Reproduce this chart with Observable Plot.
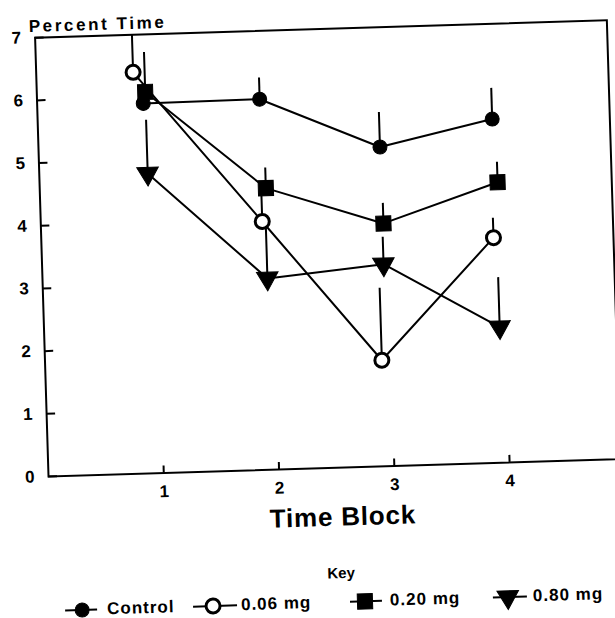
<!DOCTYPE html>
<html>
<head>
<meta charset="utf-8">
<script src="https://cdn.jsdelivr.net/npm/d3@7"></script>
<script src="https://cdn.jsdelivr.net/npm/@observablehq/plot@0.6"></script>
<style>
  html, body { margin: 0; padding: 0; background: #fff; }
  body { width: 615px; height: 618px; overflow: hidden; position: relative; }
  #page {
    position: absolute; left: 0; top: 0; width: 630px; height: 640px;
    transform-origin: 48px 476px; transform: rotate(-1.75deg);
    font-family: "Liberation Sans", Arial, sans-serif; font-weight: bold; color: #000;
  }
  #page svg { display: block; }
  .key { position: absolute; font-size: 15px; line-height: 16px; transform: translate(-50%, -50%); }
  .item-text { position: absolute; font-size: 17px; line-height: 16px; letter-spacing: 1px; }
  .item-sym { position: absolute; overflow: visible; }
</style>
</head>
<body>
<div id="page"></div>
<script>
// Mean percent time per time block for each treatment group,
// with the top of each upward error bar.
const blocks = [1, 2, 3, 4];
const groups = ["Control", "0.06 mg", "0.20 mg", "0.80 mg"];

// Horizontal positions at which each group's points are plotted
const controlX = [0.92, 1.93, 2.96, 3.94];
const dose06X  = [0.84, 1.92, 2.92, 3.92];
const dose20X  = [0.94, 1.96, 2.97, 3.97];
const dose80X  = [0.94, 1.95, 2.96, 3.95];

const controlMean = [5.90, 5.91, 5.09, 5.48];
const dose06Mean  = [6.40, 3.96, 1.69, 3.59];
const dose20Mean  = [6.08, 4.49, 3.87, 4.47];
const dose80Mean  = [4.78, 3.05, 3.22, 2.16];

const controlUpper = [6.20, 6.25, 5.64, 5.97];
const dose06Upper  = [7.00, 4.36, 2.84, 3.90];
const dose20Upper  = [6.71, 4.81, 4.19, 4.79];
const dose80Upper  = [5.63, 3.85, 3.65, 2.95];

const yTicks = [0, 1, 2, 3, 4, 5, 6, 7];
const xTicks = [1, 2, 3, 4];

const seriesX = [controlX, dose06X, dose20X, dose80X];
const seriesMean = [controlMean, dose06Mean, dose20Mean, dose80Mean];
const seriesUpper = [controlUpper, dose06Upper, dose20Upper, dose80Upper];

const rows = groups.flatMap((group, i) =>
  blocks.map((block, j) => ({
    group, block,
    x: seriesX[i][j],
    mean: seriesMean[i][j],
    upper: seriesUpper[i][j]
  }))
);
const of = g => rows.filter(d => d.group === g);

// Marker style for each group (shared by plot and key)
const markerStyle = {
  "Control": {symbol: "circle", r: 7, fill: "black", stroke: "black", strokeWidth: 1},
  "0.06 mg": {symbol: "circle", r: 7, fill: "white", stroke: "black", strokeWidth: 3},
  "0.20 mg": {symbol: "square", r: 8.5, fill: "black", stroke: "black", strokeWidth: 1},
  "0.80 mg": {symbol: "triangle", r: 8, rotate: 180, fill: "black", stroke: "black", strokeWidth: 1}
};

const intLabel = d => String(d);

const chart = Plot.plot({
  width: 630,
  height: 548,
  marginLeft: 48,
  marginRight: 10,
  marginTop: 37,
  marginBottom: 72,
  x: {domain: [0, 4.96]},
  y: {domain: [0, 7]},
  style: {
    fontFamily: '"Liberation Sans", Arial, sans-serif',
    color: "black",
    background: "transparent",
    overflow: "visible"
  },
  marks: [
    // inward tick marks
    Plot.axisY({ticks: yTicks, tickSize: 9, dx: 9, fill: "none", strokeWidth: 2, label: null}),
    Plot.axisX({ticks: xTicks, tickSize: 7, dy: -7, fill: "none", strokeWidth: 2, label: null}),
    // tick labels
    Plot.axisY({ticks: yTicks, tickFormat: intLabel, tickSize: 0, tickPadding: 14, fontSize: 17, fontWeight: "bold", label: null}),
    Plot.axisX({ticks: xTicks, tickFormat: intLabel, tickSize: 0, tickPadding: 12, fontSize: 17, fontWeight: "bold", label: null}),
    Plot.frame({stroke: "black", strokeWidth: 2}),
    Plot.line(rows, {x: "x", y: "mean", z: "group", stroke: "black", strokeWidth: 2}),
    Plot.ruleX(rows, {x: "x", y1: "mean", y2: "upper", stroke: "black", strokeWidth: 2}),
    ...groups.map(g => Plot.dot(of(g), {x: "x", y: "mean", ...markerStyle[g]})),
    Plot.text(["Percent Time"], {
      frameAnchor: "top-left", dx: -6, dy: -18, textAnchor: "start",
      fontSize: 17, fontWeight: "bold"
    }),
    Plot.text(["Time Block"], {
      frameAnchor: "bottom", dx: 7, dy: 58,
      fontSize: 26, fontWeight: "bold"
    })
  ]
});

d3.select(chart).selectAll("text")
  .filter(function() { return this.textContent === "Percent Time"; })
  .attr("letter-spacing", "2.6px");
d3.select(chart).selectAll("text")
  .filter(function() { return this.textContent === "Time Block"; })
  .attr("letter-spacing", "0.8px");

const page = document.getElementById("page");
page.appendChild(chart);

// Key below the chart
const key = document.createElement("div");
key.className = "key";
key.textContent = "Key";
key.style.left = "338px";
key.style.top = "582px";
page.appendChild(key);

const rowY = 611;
const keyLayout = [
  {group: "Control", from: 61, to: 93, sym: 78, text: 103},
  {group: "0.06 mg", from: 189, to: 233, sym: 209, text: 237},
  {group: "0.20 mg", from: 346, to: 378, sym: 361, text: 386},
  {group: "0.80 mg", from: 489, to: 523, sym: 504, text: 529}
];
const symbolType = {circle: d3.symbolCircle, square: d3.symbolSquare, triangle: d3.symbolTriangle};

for (const item of keyLayout) {
  const st = markerStyle[item.group];
  const w = item.to - item.from;
  const svg = d3.create("svg")
    .attr("class", "item-sym")
    .attr("width", w).attr("height", 24)
    .style("left", item.from + "px")
    .style("top", (rowY - 12) + "px");
  svg.append("line")
    .attr("x1", 0).attr("x2", w).attr("y1", 12).attr("y2", 12)
    .attr("stroke", "black").attr("stroke-width", 2);
  svg.append("path")
    .attr("d", d3.symbol(symbolType[st.symbol], Math.PI * st.r * st.r)())
    .attr("transform", `translate(${item.sym - item.from},12) rotate(${st.rotate || 0})`)
    .attr("fill", st.fill).attr("stroke", st.stroke).attr("stroke-width", st.strokeWidth);
  page.appendChild(svg.node());

  const label = document.createElement("div");
  label.className = "item-text";
  label.textContent = item.group;
  label.style.left = item.text + "px";
  label.style.top = (rowY - 8) + "px";
  page.appendChild(label);
}
</script>
</body>
</html>
